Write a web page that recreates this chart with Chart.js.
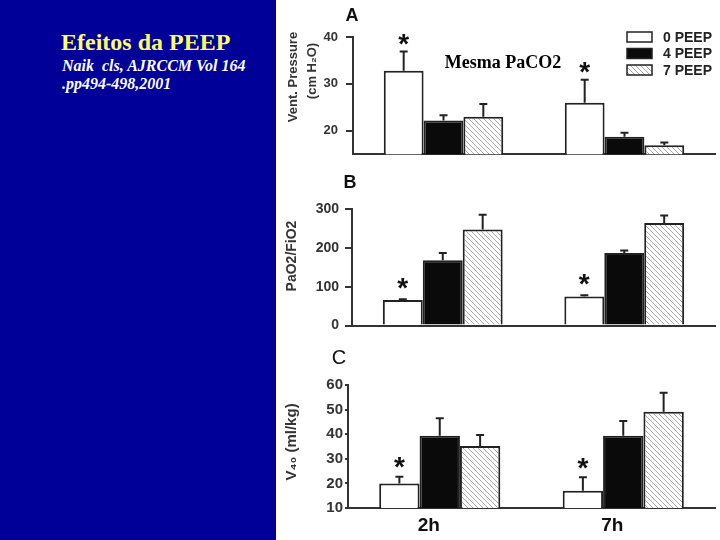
<!DOCTYPE html>
<html>
<head>
<meta charset="utf-8">
<script src="https://cdn.jsdelivr.net/npm/chart.js@4.4.1/dist/chart.umd.min.js"></script>
<style>
body { margin: 0; width: 720px; height: 540px; position: relative; background: #fff; overflow: hidden; }
#side { position: absolute; left: 0; top: 0; width: 276px; height: 540px; background: #000099; }
#side h1 { position: absolute; left: 61px; top: 30px; margin: 0; font: bold 24px/24px 'Liberation Serif'; color: #ffff66; white-space: nowrap; }
#side p { position: absolute; left: 62px; top: 57px; margin: 0; font: italic bold 16px/18px 'Liberation Serif'; color: #fff; white-space: pre; }
canvas { position: absolute; left: 280px; }
</style>
</head>
<body>
<div id="side">
  <h1>Efeitos da PEEP</h1>
  <p>Naik  cls, AJRCCM Vol 164
.pp494-498,2001</p>
</div>
<canvas id="chartA" width="440" height="170" style="top:0px"></canvas>
<canvas id="chartB" width="440" height="170" style="top:170px"></canvas>
<canvas id="chartC" width="440" height="200" style="top:340px"></canvas>
<script>
const categories = ['2h', '7h'];
const peepLabels = ['0 PEEP', '4 PEEP', '7 PEEP'];
const starred = [true, true]; // 0 PEEP differs at both times

// A - Vent. Pressure (cm H2O)
const pressure0 = [32.8, 26.0];
const pressure4 = [22.2, 18.7];
const pressure7 = [23.0, 16.9];
const pressure0Err = [4.1, 4.9];
const pressure4Err = [1.1, 0.9];
const pressure7Err = [2.7, 0.6];
const pressureTicks = [20, 30, 40];

// B - PaO2/FiO2
const ratio0 = [66, 75];
const ratio4 = [168, 187];
const ratio7 = [247, 264];
const ratio0Err = [2, 3];
const ratio4Err = [19, 6];
const ratio7Err = [38, 19];
const ratioTicks = [0, 100, 200, 300];

// C - V40 (ml/kg)
const volume0 = [20.0, 17.0];
const volume4 = [39.4, 39.4];
const volume7 = [35.2, 49.1];
const volume0Err = [2.7, 5.5];
const volume4Err = [7.1, 6.0];
const volume7Err = [4.5, 7.8];
const volumeTicks = [10, 20, 30, 40, 50, 60];

function hatch() {
    const c = document.createElement('canvas');
    c.width = 5; c.height = 5;
    const g = c.getContext('2d');
    g.fillStyle = '#fff';
    g.fillRect(0, 0, 5, 5);
    g.strokeStyle = '#a8a8a8';
    g.lineWidth = 1;
    g.beginPath();
    g.moveTo(-1, -1); g.lineTo(6, 6);
    g.moveTo(-1, 4); g.lineTo(2, 7);
    g.moveTo(4, -1); g.lineTo(7, 2);
    g.stroke();
    return g.createPattern(c, 'repeat');
}
const fills = ['#ffffff', '#0a0a0a', hatch()];

function peepSets(values, errors) {
    return values.map((v, i) => ({
        label: peepLabels[i],
        data: v,
        errors: errors[i],
        stars: i === 0 ? starred : null,
        backgroundColor: fills[i],
        borderColor: '#222',
        borderWidth: 2,
        categoryPercentage: 0.66,
        barPercentage: 1
    }));
}

const panelMarks = {
    id: 'panelMarks',
    afterDatasetsDraw(chart, args, o) {
        const ctx = chart.ctx;
        const y = chart.scales.y;
        ctx.save();
        ctx.strokeStyle = '#222';
        ctx.lineWidth = 2;
        ctx.fillStyle = '#111';
        ctx.textAlign = 'center';
        chart.data.datasets.forEach((ds, i) => {
            chart.getDatasetMeta(i).data.forEach((bar, j) => {
                const top = y.getPixelForValue(ds.data[j] + ds.errors[j]);
                ctx.beginPath();
                ctx.moveTo(bar.x, bar.y);
                ctx.lineTo(bar.x, top);
                ctx.moveTo(bar.x - 4, top);
                ctx.lineTo(bar.x + 4, top);
                ctx.stroke();
                if (ds.stars && ds.stars[j]) {
                    ctx.font = 'bold 28px "Liberation Sans"';
                    ctx.textBaseline = 'alphabetic';
                    ctx.fillText('*', bar.x, top - o.starGap + 14.5);
                }
            });
        });

        ctx.textBaseline = 'middle';
        (o.texts || []).forEach(t => {
            ctx.save();
            ctx.font = t.font;
            ctx.fillStyle = t.color || '#222';
            ctx.translate(t.x, t.y);
            if (t.rotate) ctx.rotate(-Math.PI / 2);
            ctx.fillText(t.text, 0, 0);
            ctx.restore();
        });

        if (o.legend) {
            const L = o.legend;
            chart.data.datasets.forEach((ds, i) => {
                const cy = L.y + i * L.step;
                ctx.fillStyle = ds.backgroundColor;
                ctx.fillRect(L.x, cy - 5, 25, 10);
                ctx.lineWidth = 1.5;
                ctx.strokeStyle = '#222';
                ctx.strokeRect(L.x, cy - 5, 25, 10);
                ctx.fillStyle = '#222';
                ctx.font = 'bold 14px "Liberation Sans"';
                ctx.textAlign = 'left';
                ctx.fillText(ds.label, L.textX, cy + 1);
            });
        }
        ctx.restore();
    }
};

function makeChart(id, s) {
    return new Chart(document.getElementById(id), {
        type: 'bar',
        data: { labels: categories, datasets: s.datasets },
        options: {
            responsive: false,
            animation: false,
            devicePixelRatio: 1,
            layout: { padding: { top: s.top, right: 5, bottom: 0, left: 0 } },
            plugins: {
                legend: { display: false },
                tooltip: { enabled: false },
                panelMarks: s.marks
            },
            scales: {
                x: {
                    grid: { display: false, drawTicks: false },
                    border: { display: true, color: '#333', width: 2 },
                    ticks: {
                        display: !!s.xLabels,
                        font: { family: 'Liberation Sans', size: 19, weight: 'bold' },
                        color: '#111',
                        padding: 6,
                        labelOffset: -11
                    },
                    afterFit: sc => { sc.height = s.h - s.bottom; }
                },
                y: {
                    min: s.min,
                    max: s.max,
                    afterBuildTicks: sc => { sc.ticks = s.ticks.map(v => ({ value: v })); },
                    afterFit: sc => { sc.width = s.left; },
                    grid: { drawOnChartArea: false, tickLength: s.tickLength, color: '#333', lineWidth: 2 },
                    border: { display: true, color: '#333', width: 2 },
                    ticks: { font: s.tickFont, color: '#333', padding: s.tickPadding }
                }
            }
        },
        plugins: [panelMarks]
    });
}

makeChart('chartA', {
    datasets: peepSets([pressure0, pressure4, pressure7], [pressure0Err, pressure4Err, pressure7Err]),
    h: 170, top: 37, bottom: 155, left: 73,
    min: 15, max: 40, ticks: pressureTicks,
    tickLength: 7, tickPadding: 8,
    tickFont: { family: 'Liberation Sans', size: 13, weight: 'bold' },
    marks: {
        starGap: 13,
        texts: [
            { text: 'A', x: 72, y: 16, font: 'bold 18px "Liberation Sans"', color: '#111' },
            { text: 'Vent. Pressure', x: 13, y: 77, rotate: true, font: 'bold 13px "Liberation Sans"', color: '#333' },
            { text: '(cm H\u2082O)', x: 32, y: 71, rotate: true, font: 'bold 13px "Liberation Sans"', color: '#333' },
            { text: 'Mesma PaCO2', x: 223, y: 63, font: 'bold 18px "Liberation Serif"', color: '#000' }
        ],
        legend: { x: 347, y: 37, step: 16.5, textX: 383 }
    }
});

makeChart('chartB', {
    datasets: peepSets([ratio0, ratio4, ratio7], [ratio0Err, ratio4Err, ratio7Err]),
    h: 170, top: 39, bottom: 157, left: 72,
    min: 0, max: 300, ticks: ratioTicks,
    tickLength: 7, tickPadding: 6,
    tickFont: { family: 'Liberation Sans', size: 14, weight: 'bold' },
    marks: {
        starGap: 17,
        texts: [
            { text: 'B', x: 70, y: 13, font: 'bold 18px "Liberation Sans"', color: '#111' },
            { text: 'PaO2/FiO2', x: 12, y: 86, rotate: true, font: 'bold 14px "Liberation Sans"', color: '#333' }
        ]
    }
});

makeChart('chartC', {
    datasets: peepSets([volume0, volume4, volume7], [volume0Err, volume4Err, volume7Err]),
    h: 200, top: 45, bottom: 168, left: 68,
    min: 10, max: 60, ticks: volumeTicks,
    tickLength: 3, tickPadding: 2,
    tickFont: { family: 'Liberation Sans', size: 15, weight: 'bold' },
    xLabels: true,
    marks: {
        starGap: 15,
        texts: [
            { text: 'C', x: 59, y: 18, font: '20px "Liberation Sans"', color: '#111' },
            { text: 'V\u2084\u2080 (ml/kg)', x: 12, y: 102, rotate: true, font: 'bold 15px "Liberation Sans"', color: '#333' }
        ]
    }
});
</script>
</body>
</html>
